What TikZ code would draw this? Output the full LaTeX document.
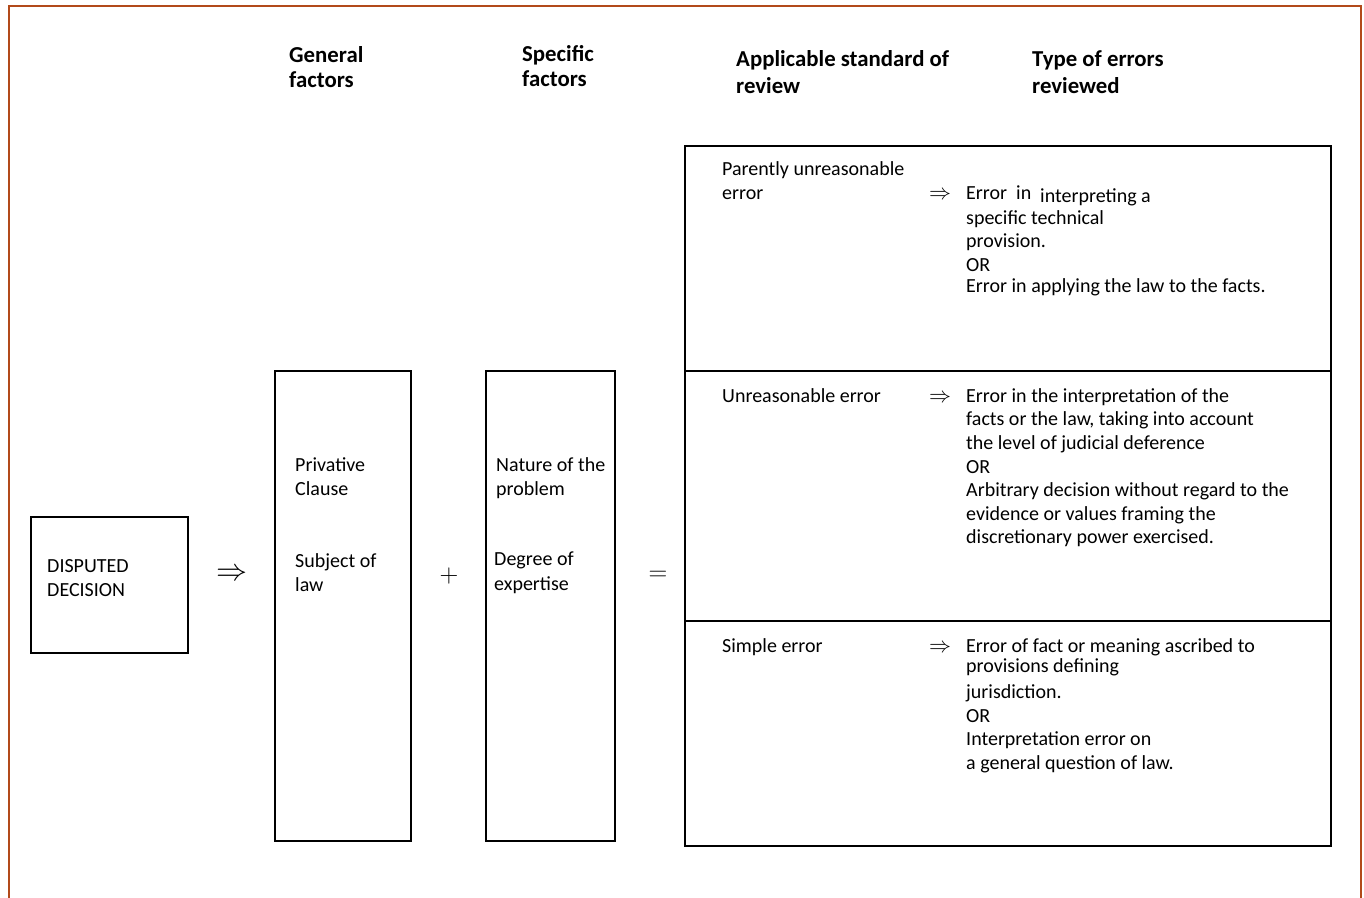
\documentclass[tikz,border=0pt]{standalone}
\usepackage{fix-cm}
\usepackage{fontspec}
\setmainfont{Carlito}
\usetikzlibrary{fit}
\definecolor{brd}{RGB}{178,74,26}
\tikzset{x=1pt,y=-1pt,
 box/.style={draw=black,line width=1.6pt,inner sep=0pt},
 boxline/.style={draw=black,line width=1.6pt},
 txt/.style={anchor=base west,inner sep=0pt,font=\fontsize{20}{24}\selectfont},
 hdr/.style={anchor=base west,inner sep=0pt,font=\fontsize{22.8}{26}\selectfont\bfseries},
 bigsym/.style={anchor=center,inner sep=0pt,font=\fontsize{31}{33}\selectfont},
 opsym/.style={anchor=center,inner sep=0pt,font=\fontsize{26}{28}\selectfont},
 tsym/.style={anchor=base,inner sep=0pt,font=\fontsize{22}{24}\selectfont}}
\newcommand\tline[4]{\node[txt] (#1) at (#2,#3) {#4};}
\newcommand\hdline[4]{\node[hdr] (#1) at (#2,#3) {#4};}
\begin{document}
\begin{tikzpicture}
\useasboundingbox (0,0) rectangle (1364,897);
% outer frame
\draw[brd,line width=2pt] (9,910) -- (9,6) -- (1361,6) -- (1361,910);
% headers
\hdline{h1a}{289}{62}{General}
\hdline{h1b}{289}{87}{factors}
\hdline{h2a}{522}{61}{Specific}
\hdline{h2b}{522}{86}{factors}
\hdline{h3a}{736}{66}{Applicable standard of}
\hdline{h3b}{736}{93}{review}
\hdline{h4a}{1032}{66}{Type of errors}
\hdline{h4b}{1032}{93}{reviewed}
% boxes
\node[box,fit={(31,517) (188,653)}] (dd) {};
\node[box,fit={(275,371) (411,841)}] (gen) {};
\node[box,fit={(486,371) (615,841)}] (spec) {};
\node[box,fit={(685,146) (1331,846)}] (std) {};
\draw[boxline] (685,371) -- (1331,371);
\draw[boxline] (685,621) -- (1331,621);
% symbols between boxes
\node[bigsym] (s1) at (232,575) {$\Rightarrow$};
\node[opsym] (s2) at (449,576) {$+$};
\node[opsym] (s3) at (658,576) {$=$};
% disputed decision
\tline{d1}{47}{572}{DISPUTED}
\tline{d2}{47}{596}{DECISION}
% general factors
\tline{g1}{295}{471}{Privative}
\tline{g2}{295}{495}{Clause}
\tline{g3}{295}{567}{Subject of}
\tline{g4}{295}{591}{law}
% specific factors
\tline{p1}{496}{471}{Nature of the}
\tline{p2}{496}{495}{problem}
\tline{p3}{494}{565}{Degree of}
\tline{p4}{494}{590}{expertise}
% row 1
\tline{r1a}{722}{175}{Parently unreasonable}
\tline{r1b}{722}{199}{error}
\node[tsym] (ar1) at (940,199) {$\Rightarrow$};
\tline{e1a}{966}{199}{Error\ \ in}
\tline{e1b}{1040}{202}{interpreting a}
\tline{e1c}{966}{224}{specific technical}
\tline{e1d}{966}{247}{provision.}
\tline{e1e}{966}{271}{OR}
\tline{e1f}{966}{292}{Error in applying the law to the facts.}
% row 2
\tline{r2a}{722}{402}{Unreasonable error}
\node[tsym] (ar2) at (940,402) {$\Rightarrow$};
\tline{e2a}{966}{402}{Error in the interpretation of the}
\tline{e2b}{966}{425}{facts or the law, taking into account}
\tline{e2c}{966}{449}{the level of judicial deference}
\tline{e2d}{966}{473}{OR}
\tline{e2e}{966}{496}{Arbitrary decision without regard to the}
\tline{e2f}{966}{520}{evidence or values framing the}
\tline{e2g}{966}{543}{discretionary power exercised.}
% row 3
\tline{r3a}{722}{652}{Simple error}
\node[tsym] (ar3) at (940,652) {$\Rightarrow$};
\tline{e3a}{966}{652}{Error of fact or meaning ascribed to}
\tline{e3b}{966}{672}{provisions defining}
\tline{e3c}{966}{698}{jurisdiction.}
\tline{e3d}{966}{722}{OR}
\tline{e3e}{966}{745}{Interpretation error on}
\tline{e3f}{966}{769}{a general question of law.}
\end{tikzpicture}
\end{document}
